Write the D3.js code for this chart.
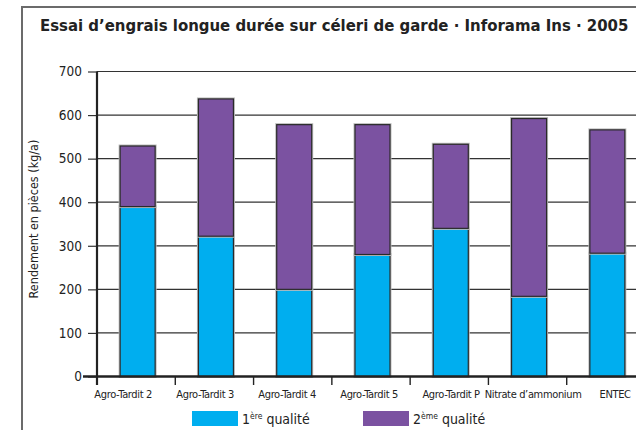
<!DOCTYPE html>
<html>
<head>
<meta charset="utf-8">
<script src="https://cdn.jsdelivr.net/npm/d3@7"></script>
<style>
  body { margin: 0; background: #fff; }
  svg text { font-family: "Liberation Sans Narrow", "DejaVu Sans Condensed", sans-serif; fill: #222; }
</style>
</head>
<body>
<div id="main"></div>
<script>
var categories = ['Agro-Tardit 2', 'Agro-Tardit 3', 'Agro-Tardit 4', 'Agro-Tardit 5', 'Agro-Tardit P', 'Nitrate d\u2019ammonium', 'ENTEC'];
var premiere = [390, 322, 200, 280, 340, 184, 283];
var deuxieme = [139, 315, 378, 298, 193, 408, 283];
var yTicks = [0, 100, 200, 300, 400, 500, 600, 700];
var seriesNames = ['1\u00e8re qualit\u00e9', '2\u00e8me qualit\u00e9'];
var colors = ['#00aeef', '#7b52a1'];

var width = 636, height = 430;
var svg = d3.select('#main').append('svg')
    .attr('width', width).attr('height', height);

// frame
svg.append('rect')
    .attr('x', 22).attr('y', 7).attr('width', 700).attr('height', 500)
    .attr('fill', 'none').attr('stroke', '#6b6b6b').attr('stroke-width', 2);

svg.append('text')
    .attr('x', 40).attr('y', 31)
    .attr('font-size', 16.6).attr('font-weight', 'bold')
    .text('Essai d\u2019engrais longue dur\u00e9e sur c\u00e9leri de garde \u00b7 Inforama Ins \u00b7 2005');

var x = d3.scaleBand().domain(categories).range([97, 645]).paddingInner(0).paddingOuter(0);
var y = d3.scaleLinear().domain([0, 700]).range([376.5, 71.5]);

// gridlines
svg.append('g').selectAll('line').data(yTicks.slice(1)).join('line')
    .attr('x1', 97).attr('x2', width)
    .attr('y1', d => y(d)).attr('y2', d => y(d))
    .attr('stroke', '#333').attr('stroke-width', 1.2);

// y axis
var yAxis = svg.append('g').attr('transform', 'translate(97,0)')
    .call(d3.axisLeft(y).tickValues(yTicks).tickSize(9).tickPadding(6));
yAxis.select('.domain').remove();
yAxis.selectAll('line').attr('stroke', '#333').attr('stroke-width', 1.2);
yAxis.selectAll('text').attr('font-size', 13.5).attr('fill', '#222');

svg.append('text')
    .attr('transform', 'translate(38,219) rotate(-90)')
    .attr('text-anchor', 'middle').attr('font-size', 12.5)
    .text('Rendement en pi\u00e8ces (kg/a)');

// stacked bars
var rows = categories.map((c, i) => ({ cat: c, a: premiere[i], b: deuxieme[i] }));
var stack = d3.stack().keys(['a', 'b'])(rows);
var bw = 35;
var off = (x.bandwidth() - bw) / 2 + 1.5;

stack.forEach(function(layer, k) {
    var g = svg.append('g');
    g.selectAll('rect.halo').data(layer).join('rect')
        .attr('x', d => x(d.data.cat) + off).attr('width', bw)
        .attr('y', d => y(d[1])).attr('height', d => y(d[0]) - y(d[1]))
        .attr('fill', 'none').attr('stroke', '#bbb').attr('stroke-width', 3);
    g.selectAll('rect.bar').data(layer).join('rect')
        .attr('x', d => x(d.data.cat) + off).attr('width', bw)
        .attr('y', d => y(d[1])).attr('height', d => y(d[0]) - y(d[1]))
        .attr('fill', colors[k]).attr('stroke', '#2a2a2a').attr('stroke-width', 1.2);
});

// y axis line
svg.append('line')
    .attr('x1', 97).attr('x2', 97).attr('y1', y(700)).attr('y2', 385)
    .attr('stroke', '#222').attr('stroke-width', 2.2);

// x axis
svg.append('line')
    .attr('x1', 83).attr('x2', width).attr('y1', y(0)).attr('y2', y(0))
    .attr('stroke', '#222').attr('stroke-width', 2.6);
svg.append('g').selectAll('line').data(categories.slice(1)).join('line')
    .attr('x1', d => x(d)).attr('x2', d => x(d))
    .attr('y1', y(0)).attr('y2', 385)
    .attr('stroke', '#222').attr('stroke-width', 1.4);
svg.append('g').selectAll('text').data(categories).join('text')
    .attr('x', (d, i) => x(d) + x.bandwidth() / 2 - 13 + i * 3.7)
    .attr('y', 398).attr('text-anchor', 'middle').attr('font-size', 11)
    .attr('letter-spacing', -0.35)
    .text(d => d);

// legend
var legX = [192, 363];
seriesNames.forEach(function(name, k) {
    svg.append('rect')
        .attr('x', legX[k]).attr('y', 411).attr('width', 46).attr('height', 15)
        .attr('fill', colors[k]);
    var t = svg.append('text').attr('x', legX[k] + 50).attr('y', 424).attr('font-size', 14);
    t.append('tspan').text(name.slice(0, 1));
    t.append('tspan').attr('font-size', 8.5).attr('dy', -5).text(name.slice(1, 4));
    t.append('tspan').attr('dy', 5).text(name.slice(4));
});
</script>
</body>
</html>
